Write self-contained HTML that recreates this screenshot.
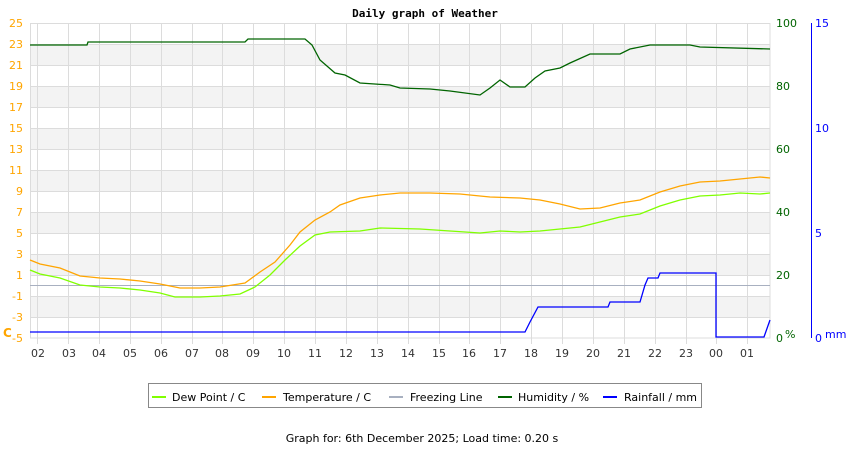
<!DOCTYPE html><html><head><style>body{margin:0;background:#fff}svg{display:block;font-family:"DejaVu Sans",sans-serif}</style></head><body>
<svg width="850" height="450" xmlns="http://www.w3.org/2000/svg">
<text x="425" y="17" text-anchor="middle" font-family="DejaVu Sans Mono,monospace" font-weight="bold" font-size="11">Daily graph of Weather</text>
<g fill="#f3f3f3">
<rect x="30" y="44" width="740" height="21"/><rect x="30" y="86" width="740" height="21"/><rect x="30" y="128" width="740" height="21"/><rect x="30" y="170" width="740" height="21"/><rect x="30" y="212" width="740" height="21"/><rect x="30" y="254" width="740" height="21"/><rect x="30" y="296" width="740" height="21"/></g>
<g stroke="#dcdcdc" stroke-width="1">
<path d="M30 44.5H770M30 65.5H770M30 86.5H770M30 107.5H770M30 128.5H770M30 149.5H770M30 170.5H770M30 191.5H770M30 212.5H770M30 233.5H770M30 254.5H770M30 275.5H770M30 296.5H770M30 317.5H770"/>
<path d="M37.5 23V344M68.5 23V344M99.5 23V344M130.5 23V344M161.5 23V344M192.5 23V344M222.5 23V344M253.5 23V344M284.5 23V344M315.5 23V344M346.5 23V344M377.5 23V344M408.5 23V344M439.5 23V344M469.5 23V344M500.5 23V344M531.5 23V344M562.5 23V344M593.5 23V344M624.5 23V344M655.5 23V344M686.5 23V344M716.5 23V344M747.5 23V344"/>
<rect x="30.5" y="23.5" width="739.5" height="314.5" fill="none"/></g>
<line x1="30" y1="285.5" x2="770" y2="285.5" stroke="#a8b0c0"/>
<line x1="811.5" y1="23" x2="811.5" y2="338" stroke="#0000ff"/>
<g fill="none" stroke-width="1.3">
<polyline stroke="#ffa500" points="30,260 40,264 60,268 80,276 100,278 120,279 140,281 160,284 180,288 200,288 220,287 245,283 260,272 275,262 290,245 300,232 315,220 330,212 340,205 360,198 380,195 400,193 430,193 460,194 490,197 520,198 540,200 560,204 580,209 600,208 620,203 640,200 660,192 680,186 700,182 720,181 740,179 760,177 770,178"/>
<polyline stroke="#80ff00" points="30,270 40,274 60,278 80,285 100,287 120,288 140,290 160,293 175,297 200,297 220,296 240,294 255,287 270,275 285,260 300,246 315,235 330,232 360,231 380,228 420,229 450,231 480,233 500,231 520,232 540,231 560,229 580,227 600,222 620,217 640,214 660,206 680,200 700,196 720,195 740,193 760,194 770,193"/>
<polyline stroke="#006400" points="30,45 87,45 88,42 245,42 248,39 305,39 312,45 320,60 335,73 345,75 360,83 390,85 400,88 430,89 450,91 480,95 490,88 500,80 510,87 525,87 535,78 545,71 560,68 570,63 590,54 620,54 630,49 650,45 690,45 700,47 770,49"/>
<polyline stroke="#0000ff" points="30,332 525,332 530,322 538,307 608,307 610,302 640,302 645,285 648,278 658,278 660,273 716,273 716,337 764,337 770,320"/>
</g>
<g font-size="11" fill="#ffa500" text-anchor="end">
<text x="23" y="27">25</text><text x="23" y="48">23</text><text x="23" y="69">21</text><text x="23" y="90">19</text><text x="23" y="111">17</text><text x="23" y="132">15</text><text x="23" y="153">13</text><text x="23" y="174">11</text><text x="23" y="195">9</text><text x="23" y="216">7</text><text x="23" y="237">5</text><text x="23" y="258">3</text><text x="23" y="279">1</text><text x="23" y="300">-1</text><text x="23" y="321">-3</text><text x="23" y="342">-5</text></g>
<text x="3" y="337" font-size="12" font-weight="bold" fill="#ffa500">C</text>
<g font-size="11" fill="#006400"><text x="776" y="27">100</text><text x="776" y="90">80</text><text x="776" y="153">60</text><text x="776" y="216">40</text><text x="776" y="279">20</text><text x="776" y="342">0</text><text x="785" y="338">%</text></g>
<g font-size="11" fill="#0000ff"><text x="815" y="27">15</text><text x="815" y="132">10</text><text x="815" y="237">5</text><text x="815" y="342">0</text><text x="825" y="338">mm</text></g>
<g font-size="11" fill="#333" text-anchor="middle">
<text x="38" y="357">02</text><text x="69" y="357">03</text><text x="99" y="357">04</text><text x="130" y="357">05</text><text x="161" y="357">06</text><text x="192" y="357">07</text><text x="222" y="357">08</text><text x="253" y="357">09</text><text x="284" y="357">10</text><text x="315" y="357">11</text><text x="346" y="357">12</text><text x="377" y="357">13</text><text x="408" y="357">14</text><text x="439" y="357">15</text><text x="469" y="357">16</text><text x="500" y="357">17</text><text x="531" y="357">18</text><text x="562" y="357">19</text><text x="593" y="357">20</text><text x="624" y="357">21</text><text x="655" y="357">22</text><text x="686" y="357">23</text><text x="716" y="357">00</text><text x="747" y="357">01</text></g>
<rect x="148.5" y="383.5" width="553" height="24" fill="#fff" stroke="#888"/>
<g font-size="11" fill="#000">
<line x1="152" y1="397" x2="166" y2="397" stroke="#80ff00" stroke-width="2"/><text x="172" y="401">Dew Point / C</text>
<line x1="262" y1="397" x2="276" y2="397" stroke="#ffa500" stroke-width="2"/><text x="283" y="401">Temperature / C</text>
<line x1="389" y1="397" x2="403" y2="397" stroke="#a8b0c0" stroke-width="2"/><text x="410" y="401">Freezing Line</text>
<line x1="498" y1="397" x2="512" y2="397" stroke="#006400" stroke-width="2"/><text x="518" y="401">Humidity / %</text>
<line x1="603" y1="397" x2="617" y2="397" stroke="#0000ff" stroke-width="2"/><text x="624" y="401">Rainfall / mm</text>
<text x="422" y="442" text-anchor="middle">Graph for: 6th December 2025; Load time: 0.20 s</text></g>
</svg></body></html>
